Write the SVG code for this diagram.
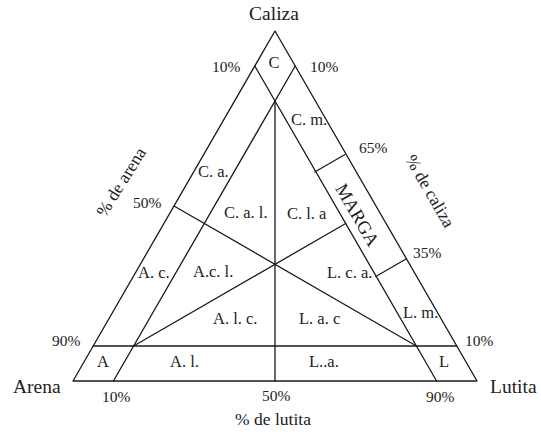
<svg xmlns="http://www.w3.org/2000/svg" width="541" height="434" viewBox="0 0 541 434">
<style>
.ln{stroke:#1a1a1a;stroke-width:1.3;fill:none;stroke-linecap:round;stroke-linejoin:round}
text{font-family:"Liberation Serif","Times New Roman",serif;fill:#222}
.v{font-size:19.5px}
.n{font-size:15.5px}
.r{font-size:16.5px}
.ax{font-size:17.5px}
.m{text-anchor:middle}
</style>
<rect width="541" height="434" fill="#fff"/>
<g id="connectors">
<polygon class="ln" points="73,381 477,381 275,31"/>
<line class="ln" x1="254.8" y1="66" x2="436.6" y2="381"/>
<line class="ln" x1="295.2" y1="66" x2="113.4" y2="381"/>
<line class="ln" x1="93.2" y1="346" x2="456.8" y2="346"/>
<line class="ln" x1="275" y1="101" x2="275" y2="381"/>
<line class="ln" x1="174" y1="206" x2="416.4" y2="346"/>
<line class="ln" x1="133.6" y1="346" x2="345.7" y2="223.5"/>
<line class="ln" x1="345" y1="154.5" x2="314.8" y2="172"/>
<line class="ln" x1="406" y1="259" x2="375.8" y2="276.5"/>
</g>
<g id="vertex-caliza"><text class="v m" x="274" y="20">Caliza</text></g>
<g id="vertex-arena"><text class="v" x="13" y="393">Arena</text></g>
<g id="vertex-lutita"><text class="v" x="490" y="393">Lutita</text></g>
<g id="axis-arena"><text class="ax m" transform="translate(126,185) rotate(-58)">% de arena</text></g>
<g id="axis-caliza"><text class="ax m" transform="translate(425,194) rotate(60)">% de caliza</text></g>
<g id="axis-lutita"><text class="ax m" x="273" y="425">% de lutita</text></g>
<g id="ticks">
<text class="n" x="212" y="72">10%</text>
<text class="n" x="310" y="72">10%</text>
<text class="n" x="359" y="153">65%</text>
<text class="n" x="133" y="208">50%</text>
<text class="n" x="413" y="258">35%</text>
<text class="n" x="52" y="346">90%</text>
<text class="n" x="465" y="346">10%</text>
<text class="n" x="102" y="402">10%</text>
<text class="n" x="262" y="401">50%</text>
<text class="n" x="426" y="402">90%</text>
</g>
<g id="region-C"><text class="r m" x="274" y="68">C</text></g>
<g id="region-Cm"><text class="r" x="291" y="125">C. m.</text></g>
<g id="region-Ca"><text class="r" x="198" y="177">C. a.</text></g>
<g id="region-Cal"><text class="r" x="224" y="218">C. a. l.</text></g>
<g id="region-Cla"><text class="r" x="287" y="219">C. l. a</text></g>
<g id="region-MARGA"><text class="m" style="font-size:18.5px" transform="translate(352,218) rotate(60)">MARGA</text></g>
<g id="region-Ac"><text class="r" x="138" y="278">A. c.</text></g>
<g id="region-Acl"><text class="r" x="193" y="277">A.c. l.</text></g>
<g id="region-Lca"><text class="r" x="327" y="278">L. c. a.</text></g>
<g id="region-Lm"><text class="r" x="403" y="318">L. m.</text></g>
<g id="region-Alc"><text class="r" x="213" y="324">A. l. c.</text></g>
<g id="region-Lac"><text class="r" x="299" y="324">L. a. c</text></g>
<g id="region-A"><text class="r" x="97" y="367">A</text></g>
<g id="region-Al"><text class="r" x="170" y="367">A. l.</text></g>
<g id="region-La"><text class="r" x="309" y="367">L..a.</text></g>
<g id="region-L"><text class="r" x="439" y="367">L</text></g>
</svg>
